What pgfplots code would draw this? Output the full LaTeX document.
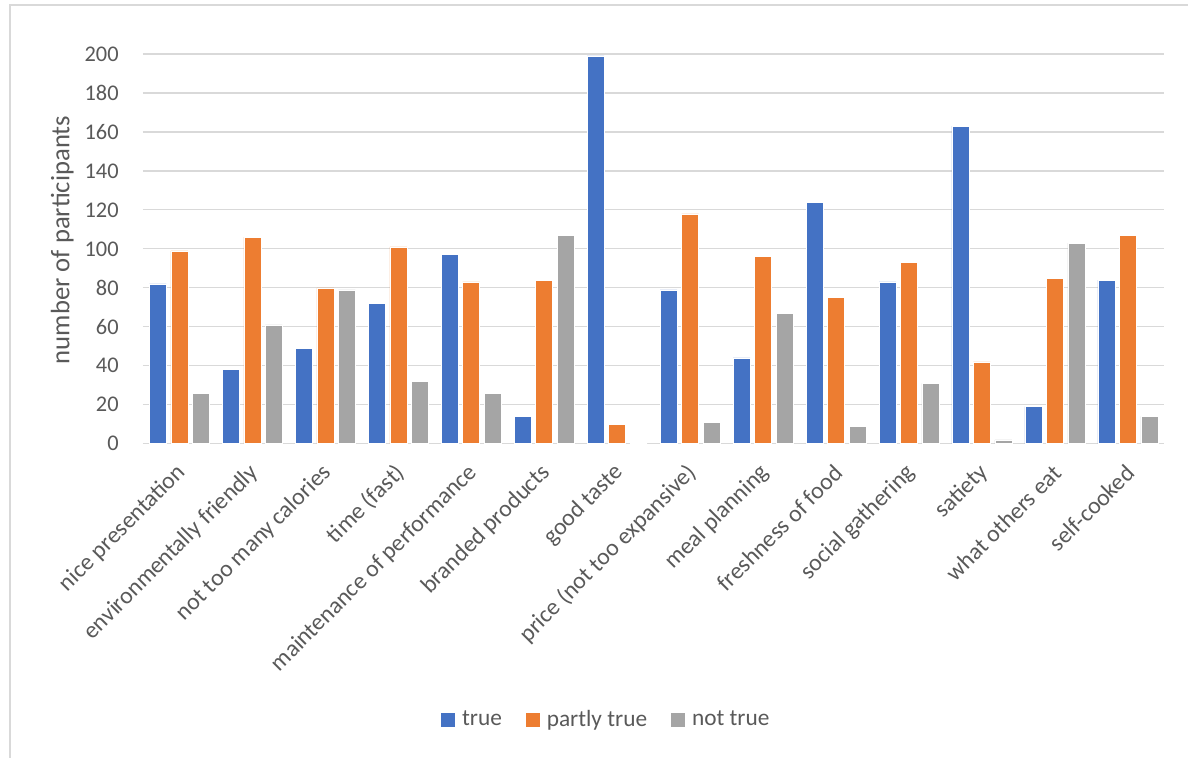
\documentclass[border=0pt]{standalone}
\usepackage{pgfplots}
\pgfplotsset{compat=1.18}
\usepackage{pgfplotstable}
\usepackage{fontspec}
\setmainfont{Carlito}
\definecolor{cblue}{HTML}{4472C4}
\definecolor{corange}{HTML}{ED7D31}
\definecolor{cgray}{HTML}{A5A5A5}
\definecolor{gridgray}{HTML}{D9D9D9}
\definecolor{txt}{HTML}{595959}
\definecolor{framegray}{HTML}{D9D9D9}

\pgfplotstableread{
x true partly not
0 82 99 26
1 38 106 61
2 49 80 79
3 72 101 32
4 97 83 26
5 14 84 107
6 199 10 0
7 79 118 11
8 44 96 67
9 124 75 9
10 83 93 31
11 163 42 2
12 19 85 103
13 84 107 14
}\datatable

\begin{document}
\begin{tikzpicture}
\begin{axis}[
  scale only axis,
  width=766.5pt, height=292.5pt,
  xmin=-0.5, xmax=13.5,
  ymin=0, ymax=200,
  ytick={0,20,...,200},
  xtick={0,...,13},
  xticklabels={nice presentation, environmentally friendly, not too many calories, time (fast), maintenance of performance, branded products, good taste, price (not too expansive), meal planning, freshness of food, social gathering, satiety, what others eat, self-cooked},
  axis x line=bottom,
  axis y line=left,
  x axis line style={-, draw=gridgray, line width=0.9pt},
  y axis line style={draw=none},
  major tick length=0pt,
  ymajorgrids,
  grid style={gridgray, line width=0.9pt},
  /pgf/number format/assume math mode=true,
  yticklabel style={font=\fontsize{16.8}{20}\selectfont, text=txt, anchor=east, inner sep=0pt, xshift=-18pt},
  xticklabel style={font=\fontsize{17.8}{21}\selectfont, text=txt, xshift=2pt, yshift=-19pt, rotate=45, anchor=east, inner sep=0pt},
  ylabel={number of participants},
  every axis y label/.style={at={(rel axis cs:-0.079,0.523)}, rotate=90, anchor=center, font=\fontsize{20}{24}\selectfont, text=txt},
  clip=false,
  ybar,
  bar width=0.233,
  legend style={at={(rel axis cs:0.454,-0.7077)}, anchor=center, draw=none, fill=none,
    font=\fontsize{17.5}{21}\selectfont, text=txt, legend columns=3,
    /tikz/every even column/.append style={column sep=16pt}},
  legend image code/.code={\fill[#1, draw=none] (0pt,-5.25pt) rectangle (10.5pt,5.25pt); \path (13.5pt,0pt);},
]
\addplot[fill=cblue, draw=white, line width=0.4pt, bar shift=-0.2945] table[x=x, y=true] {\datatable};
\addplot[fill=corange, draw=white, line width=0.4pt, bar shift=0] table[x=x, y=partly] {\datatable};
\addplot[fill=cgray, draw=white, line width=0.4pt, bar shift=0.2945] table[x=x, y=not] {\datatable};
\legend{true, partly true, not true}
\path (rel axis cs:-0.13992,-0.80513) rectangle (rel axis cs:1.02348,1.13846);
\draw[framegray, line width=1pt] (rel axis cs:-0.13014,-0.80513) -- (rel axis cs:-0.13014,1.12564) -- (rel axis cs:1.02348,1.12564);
\end{axis}
\end{tikzpicture}
\end{document}
